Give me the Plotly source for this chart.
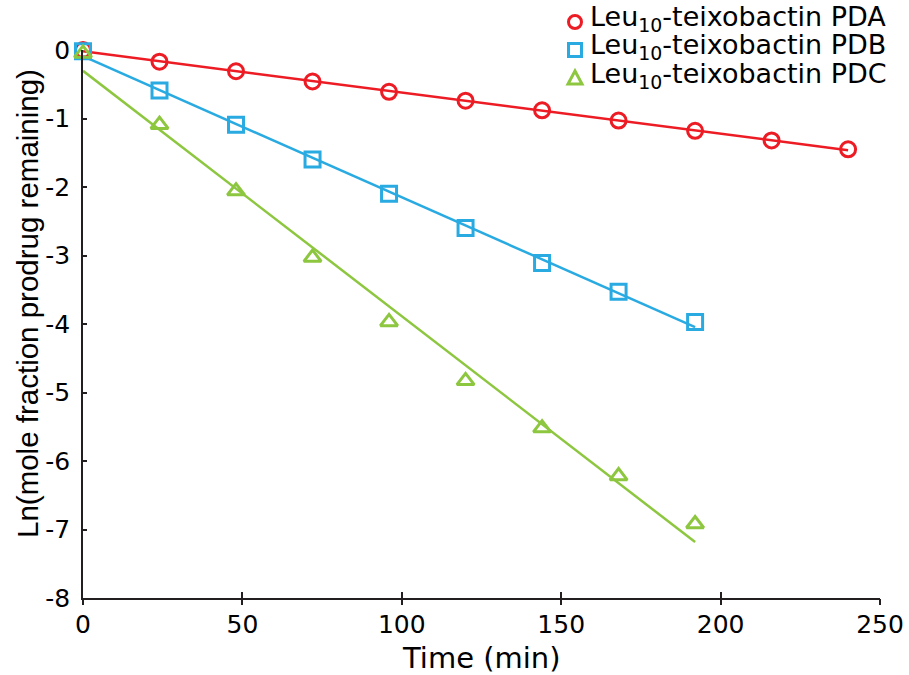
import numpy as np
import plotly.graph_objects as go

# ---- data ----
time_pda = [0, 24, 48, 72, 96, 120, 144, 168, 192, 216, 240]
ln_pda = [0.0, -0.17, -0.31, -0.46, -0.61, -0.74, -0.88, -1.03, -1.18, -1.32, -1.45]

time_pdb = [0, 24, 48, 72, 96, 120, 144, 168, 192]
ln_pdb = [-0.02, -0.59, -1.09, -1.60, -2.10, -2.60, -3.11, -3.53, -3.97]

time_pdc = [0, 24, 48, 72, 96, 120, 144, 168, 192]
ln_pdc = [-0.05, -1.09, -2.06, -3.03, -3.97, -4.83, -5.52, -6.22, -6.92]

names = ["Leu<sub>10</sub>-teixobactin PDA",
         "Leu<sub>10</sub>-teixobactin PDB",
         "Leu<sub>10</sub>-teixobactin PDC"]

x_ticks = [0, 50, 100, 150, 200, 250]
x_ticktext = ["0", "50", "100", "150", "200", "250"]
y_ticks = [0, -1, -2, -3, -4, -5, -6, -7, -8]
y_ticktext = ["0", "-1", "-2", "-3", "-4", "-5", "-6", "-7", "-8"]

colors = ["#ED1C24", "#29ABE2", "#8DC63F"]
symbols = ["circle-open", "square-open", "triangle-up-open"]

FONT = "DejaVu Sans, Arial, sans-serif"
FONT_Y = "Liberation Sans, Arial, sans-serif"

W, H = 909, 675
L, R, T, B = 83, 29, 50, 77
pw, ph = W - L - R, H - T - B

fig = go.Figure()
series = [(time_pda, ln_pda), (time_pdb, ln_pdb), (time_pdc, ln_pdc)]

# linear fits
for (t, v), c in zip(series, colors):
    k, b = np.polyfit(t, v, 1)
    xs = [min(t), max(t)]
    fig.add_trace(go.Scatter(x=xs, y=[k * xx + b for xx in xs], mode="lines",
                             line=dict(color=c, width=2.5), showlegend=False,
                             hoverinfo="skip"))

for (t, v), c, s, n in zip(series, colors, symbols, names):
    fig.add_trace(go.Scatter(x=t, y=v, mode="markers", name=n, showlegend=False,
                             cliponaxis=False,
                             marker=dict(symbol=s, size=15, color=c,
                                         line=dict(color=c, width=3))))

# overlay axis for outside half of crossing x ticks
fig.add_trace(go.Scatter(x=[0], y=[None], xaxis="x2", showlegend=False,
                         hoverinfo="skip", mode="markers"))

# manual legend: pixel-sized shapes + text annotations
leg_rows_px = [22, 50, 78]
leg_sym_x = (575 - L) / pw
leg_txt_x = (588 - L) / pw
tri_path = "M -7,-6 L 7,-6 L 0,7 Z"
for i, (c, n) in enumerate(zip(colors, names)):
    yy = 1 + (T - leg_rows_px[i]) / ph
    common = dict(xref="paper", yref="paper", xsizemode="pixel", ysizemode="pixel",
                  xanchor=leg_sym_x, yanchor=yy, line=dict(color=c, width=3),
                  fillcolor="rgba(0,0,0,0)")
    if i == 0:
        fig.add_shape(type="circle", x0=-6.5, x1=6.5, y0=-6.5, y1=6.5, **common)
    elif i == 1:
        fig.add_shape(type="rect", x0=-6.5, x1=6.5, y0=-6.5, y1=6.5, **common)
    else:
        fig.add_shape(type="path", path=tri_path, **common)
    fig.add_annotation(text=n, xref="paper", yref="paper", x=leg_txt_x, y=yy + 3 / ph,
                       xanchor="left", yanchor="middle", showarrow=False,
                       font=dict(size=27, family=FONT, color="black"))

fig.update_layout(
    width=W, height=H,
    margin=dict(l=L, r=R, t=T, b=B, pad=0, autoexpand=False),
    paper_bgcolor="white", plot_bgcolor="white",
    font=dict(family=FONT, color="black"),
    showlegend=False,
    xaxis=dict(range=[0, 250], tickvals=x_ticks, ticktext=x_ticktext,
               showgrid=False, zeroline=False, showline=True,
               linecolor="#231F20", linewidth=1.5, automargin=False,
               ticks="inside", ticklen=6, tickwidth=1.5, tickcolor="#231F20",
               tickfont=dict(size=25, family=FONT), ticklabelstandoff=3),
    xaxis2=dict(range=[0, 250], overlaying="x", side="bottom", anchor="y",
                tickvals=x_ticks, showticklabels=False, showgrid=False,
                zeroline=False, showline=False, automargin=False,
                ticks="outside", ticklen=6, tickwidth=1.5, tickcolor="#231F20"),
    yaxis=dict(range=[-8, 0], tickvals=y_ticks, ticktext=y_ticktext,
               showgrid=False, zeroline=False, showline=True,
               linecolor="#231F20", linewidth=1.5, automargin=False,
               ticks="inside", ticklen=4, tickwidth=1.5, tickcolor="#231F20",
               tickfont=dict(size=25, family=FONT), ticklabelstandoff=6),
)

fig.add_annotation(text="Time (min)", xref="paper", yref="paper",
                   x=(481 - L) / pw, y=-(658 - (T + ph)) / ph,
                   xanchor="center", yanchor="middle", showarrow=False,
                   font=dict(size=29, family=FONT, color="black"))
fig.add_annotation(text="Ln(mole fraction prodrug remaining)", xref="paper", yref="paper",
                   x=-(L - 27) / pw, y=1 - (304 - T) / ph, textangle=-90,
                   xanchor="center", yanchor="middle", showarrow=False,
                   font=dict(size=29.5, family=FONT_Y, color="black"))

fig.write_html("out.html", config={"displayModeBar": False},
               post_script="document.body.style.margin='0px';document.body.style.padding='0px';")
